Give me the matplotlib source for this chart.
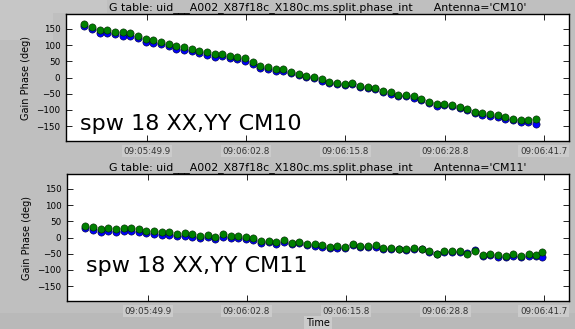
import matplotlib
matplotlib.use('Agg')
import matplotlib.pyplot as plt
from matplotlib.patches import Rectangle

# sample times, seconds after 09:05:00
times = [41.7, 42.7, 43.7, 44.7, 45.7, 46.7, 47.7, 48.7, 49.7, 50.7,
         51.7, 52.7, 53.7, 54.7, 55.7, 56.7, 57.7, 58.7, 59.7, 60.7,
         61.7, 62.7, 63.7, 64.7, 65.7, 66.7, 67.7, 68.7, 69.7, 70.7,
         71.7, 72.7, 73.7, 74.7, 75.7, 76.7, 77.7, 78.7, 79.7, 80.7,
         81.7, 82.7, 83.7, 84.7, 85.7, 86.7, 87.7, 88.7, 89.7, 90.7,
         91.7, 92.7, 93.7, 94.7, 95.7, 96.7, 97.7, 98.7, 99.7, 100.7,
         101.5]

# CM10 (top panel, 60 samples)
cm10_xx = [158, 150, 138, 137, 133, 129, 128, 121, 110, 107, 102, 97, 89, 86, 83,
           76, 69, 64, 66, 60, 57, 52, 41, 29, 27, 20, 20, 14, 8, 1,
           -2, -10, -18, -20, -24, -20, -29, -33, -36, -46, -50, -56, -58, -62, -70,
           -80, -87, -84, -88, -95, -100, -110, -115, -118, -122, -127, -132, -136, -138, -143]
cm10_yy = [164, 156, 147, 146, 141, 139, 136, 129, 120, 115, 110, 104, 97, 94, 89,
           83, 78, 71, 73, 67, 64, 59, 47, 35, 31, 26, 25, 18, 12, 6,
           2, -6, -14, -17, -20, -17, -26, -29, -32, -42, -45, -53, -54, -58, -66,
           -76, -83, -83, -86, -90, -97, -106, -111, -113, -117, -122, -127, -130, -130, -127]

# CM11 (bottom panel, 61 samples)
cm11_xx = [28, 24, 18, 20, 18, 20, 19, 17, 13, 12, 9, 8, 4, 5, 3,
           -1, 1, -4, 2, -2, -1, -4, -9, -16, -15, -19, -14, -21, -18, -24,
           -25, -28, -33, -31, -32, -24, -30, -29, -28, -34, -36, -37, -38, -36, -37,
           -45, -52, -46, -45, -45, -47, -40, -58, -54, -59, -61, -57, -61, -56, -58, -60]
cm11_yy = [35, 31, 25, 28, 25, 28, 28, 25, 20, 20, 16, 16, 11, 13, 11,
           6, 8, 3, 10, 5, 6, 3, -3, -12, -10, -14, -9, -16, -14, -19,
           -21, -24, -30, -27, -29, -19, -26, -26, -24, -31, -32, -34, -34, -32, -34,
           -41, -50, -42, -42, -42, -50, -42, -55, -50, -55, -57, -52, -57, -52, -55, -45]

tick_secs = [49.9, 62.8, 75.8, 88.8, 101.7]
tick_labels = ['09:05:49.9', '09:06:02.8', '09:06:15.8', '09:06:28.8', '09:06:41.7']
yticks = [150, 100, 50, 0, -50, -100, -150]

title_base = "G table: uid___A002_X87f18c_X180c.ms.split.phase_int      Antenna='%s'"

fig = plt.figure(figsize=(5.75, 3.29), dpi=100, facecolor='#bfbfbf')
# lighter patches in the background
fig.patches.append(Rectangle((0, 1 - 40/329.), 53/575., 40/329., transform=fig.transFigure,
                             facecolor='#c6c6c6', edgecolor='none', zorder=-5))
fig.patches.append(Rectangle((0, 1 - 13/329.), 107/575., 13/329., transform=fig.transFigure,
                             facecolor='#c6c6c6', edgecolor='none', zorder=-5))
fig.patches.append(Rectangle((0, 0), 1, 16/329., transform=fig.transFigure,
                             facecolor='#b9b9b9', edgecolor='none', zorder=-5))

panels = [
    (cm10_xx, cm10_yy, 'CM10', [66/575., 1 - 141/329., 503/575., 127/329.], (0.028, 0.087)),
    (cm11_xx, cm11_yy, 'CM11', [67/575., 1 - 301/329., 502/575., 127/329.], (0.038, 0.228)),
]

for i, (xx, yy, ant, rect, txtpos) in enumerate(panels):
    ax = fig.add_axes(rect)
    t = times[:len(xx)]
    ax.plot(t, xx, 'o', color='#0000ff', ms=5.2, mec='#000033', mew=0.4)
    ax.plot(t, yy, 'o', color='#008000', ms=5.2, mec='#002200', mew=0.4)
    ax.set_xlim(39.3, 105.0)
    ax.set_ylim(-196, 196)
    ax.set_yticks(yticks)
    ax.set_yticklabels(['%d' % v if v >= 0 else '\u2212%d' % -v for v in yticks])
    ax.set_xticks(tick_secs)
    ax.set_xticklabels(tick_labels)
    ax.tick_params(direction='in', top=True, right=True, length=4, width=0.6,
                   labelsize=6.3, pad=4)
    for lab in ax.get_xticklabels():
        lab.set_bbox(dict(facecolor='#cbcbcb', edgecolor='none', pad=1.2))
        lab.set_color('#333333')
    for s in ax.spines.values():
        s.set_linewidth(1.0)
    ax.set_ylabel('Gain Phase (deg)', fontsize=7, labelpad=4)
    ax.set_title(title_base % ant, fontsize=7.9, pad=3)
    ax.text(txtpos[0], txtpos[1], 'spw 18 XX,YY %s' % ant, transform=ax.transAxes,
            fontsize=16, va='baseline', ha='left')
    if i == 1:
        ax.set_xlabel('Time', fontsize=7, labelpad=2,
                      bbox=dict(facecolor='#cbcbcb', edgecolor='none', pad=1.5))

fig.savefig('out.png', dpi=100, facecolor=fig.get_facecolor())
